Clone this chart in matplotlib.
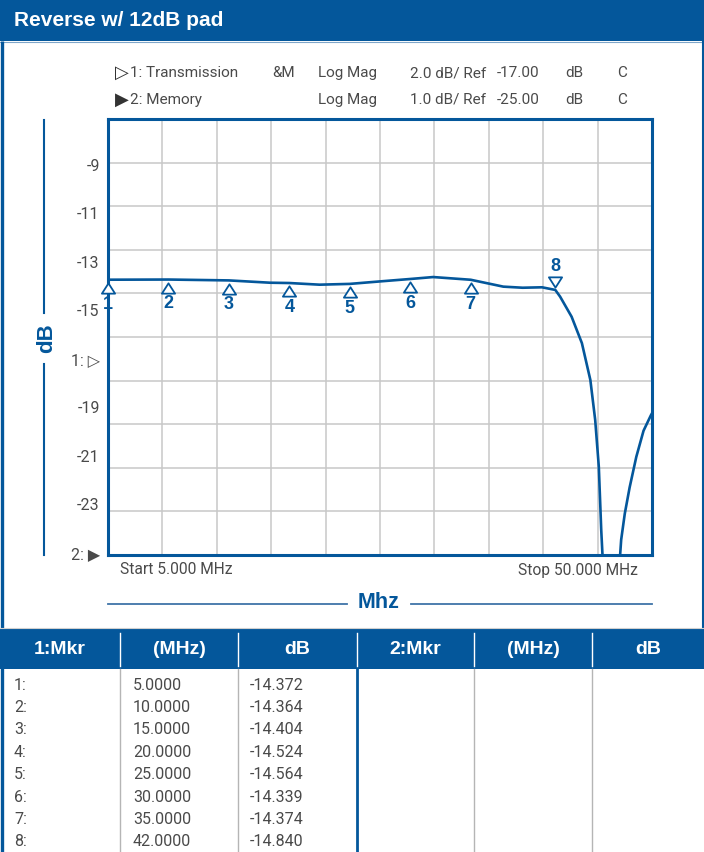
import numpy as np
import matplotlib
matplotlib.use('Agg')
import matplotlib.pyplot as plt
from matplotlib.path import Path
from matplotlib.patches import Rectangle
from matplotlib.transforms import offset_copy

plt.rcParams['font.family'] = ['Roboto', 'DejaVu Sans']
BOLD = ['Liberation Sans', 'DejaVu Sans']

BLUE = '#04579b'
GRID = '#c8c8c8'
TXT = '#4a4a4a'

# transmission trace (MHz, dB)
freq = [5, 10, 15, 18.4, 20, 22.5, 25, 27.5, 30, 31.9, 35, 37.7, 39.3, 40.9,
        42, 42.4, 43.35, 44.2, 44.9, 45.3, 45.6, 45.8, 45.95, 46.6, 47.3,
        47.45, 47.75, 48.15, 48.7, 49.3, 49.9, 50]
trace_db = [-14.372, -14.364, -14.404, -14.51, -14.524, -14.60, -14.564, -14.45,
            -14.339, -14.25, -14.374, -14.69, -14.74, -14.72,
            -14.84, -15.15, -16.07, -17.28, -18.97, -20.8, -22.95, -25.85, -27.5,
            -38.0, -27.5, -26.3, -25.1, -23.9, -22.5, -21.3, -20.6, -20.5]

# marker table
mkr_names = ['1:', '2:', '3:', '4:', '5:', '6:', '7:', '8:']
mkr_freq = [5.0, 10.0, 15.0, 20.0, 25.0, 30.0, 35.0, 42.0]
mkr_db = [-14.372, -14.364, -14.404, -14.524, -14.564, -14.339, -14.374, -14.840]

ytick_labels = ['-9', '-11', '-13', '-15', '1: \u25b7', '-19', '-21', '-23', '2: \u25b6']
header = ['1:Mkr', '(MHz)', 'dB', '2:Mkr', '(MHz)', 'dB']

W, H = 704, 852
fig = plt.figure(figsize=(W / 100, H / 100), dpi=100)

# page decorations in pixel coordinates
bg = fig.add_axes([0, 0, 1, 1])
bg.set_xlim(0, W)
bg.set_ylim(H, 0)
bg.axis('off')

bg.add_patch(Rectangle((0, 0), W, 41, color=BLUE, lw=0))
bg.plot([0, W], [41.5, 41.5], color='#7fa6c9', lw=0.8)
bg.text(14, 21, 'Reverse w/ 12dB pad', color='white', fontsize=15,
        fontweight='bold', family=BOLD, va='center', ha='left')
bg.plot([2, 2], [41, H], color=BLUE, lw=2.4, solid_capstyle='butt')
bg.plot([703, 703], [41, 629], color=BLUE, lw=1.5, solid_capstyle='butt')

legend_rows = [
    ['\u25b7', '1: Transmission', '&M', 'Log Mag', '2.0 dB/ Ref', '-17.00', 'dB', 'C'],
    ['\u25b6', '2: Memory', '', 'Log Mag', '1.0 dB/ Ref', '-25.00', 'dB', 'C'],
]
legend_x = [115, 130, 272, 318, 410, 497, 565, 617]
for row, y in zip(legend_rows, [73, 100]):
    for j, (s, x) in enumerate(zip(row, legend_x)):
        fs = 13 if j == 0 else 11
        col = '#333333' if j == 0 else TXT
        bg.text(x, y, s, color=col, fontsize=fs, va='center', ha='left')

# y axis title
bg.plot([44, 44], [120, 313], color=BLUE, lw=1.5)
bg.plot([44, 44], [364, 555], color=BLUE, lw=1.5)
bg.text(47, 338, 'dB', color=BLUE, fontsize=16, fontweight='bold', family=BOLD,
        rotation=90, va='center', ha='center')

bg.text(120, 570, 'Start 5.000 MHz', color=TXT, fontsize=11.2, va='center', ha='left')
bg.text(638, 570, 'Stop 50.000 MHz', color=TXT, fontsize=11.2, va='center', ha='right')

# x axis title
bg.plot([108, 347], [604, 604], color='#3f74a8', lw=1.3)
bg.plot([411, 652], [604, 604], color='#3f74a8', lw=1.3)
bg.text(379, 603, 'Mhz', color=BLUE, fontsize=15.5, fontweight='bold', family=BOLD,
        va='center', ha='center')

# marker table
col_edges = [0, 120, 238, 357, 474, 592, W]
bg.add_patch(Rectangle((0, 629), W, 40, color=BLUE, lw=0))
bg.plot([0, W], [628, 628], color='#d0d0d0', lw=0.8)
for i, s in enumerate(header):
    bg.text((col_edges[i] + col_edges[i + 1]) / 2, 649, s, color='white',
            fontsize=14, fontweight='bold', family=BOLD, va='center', ha='center')
for x in col_edges[1:-1]:
    bg.plot([x, x], [633, 666], color='white', lw=1.0)
    if x == 357:
        bg.plot([x, x], [669, H], color=BLUE, lw=2.0)
    else:
        bg.plot([x, x], [669, H], color='#b5b5b5', lw=1.0)

for i, (name, f, d) in enumerate(zip(mkr_names, mkr_freq, mkr_db)):
    y = 685 + 22.4 * i
    bg.text(14, y, name, color=TXT, fontsize=11.5, va='center')
    bg.text(133, y, '%.4f' % f, color=TXT, fontsize=11.5, va='center')
    bg.text(250, y, '%.3f' % d, color=TXT, fontsize=11.5, va='center')

# trace plot
ax = fig.add_axes([108 / W, 1 - 555 / H, 544 / W, 436 / H])
ax.set_xlim(5, 50)
ax.set_ylim(-27, -7)
ax.set_xticks(np.linspace(5, 50, 11))
ax.set_xticklabels([])
ax.set_yticks(np.arange(-27, -6, 2), minor=True)
ax.set_yticks(np.linspace(-9.1, -26.9, len(ytick_labels)))
ax.set_yticklabels(ytick_labels, color=TXT, fontsize=11.5)
ax.tick_params(which='both', length=0, pad=6)
ax.grid(axis='x', which='major', color=GRID, lw=1.1)
ax.grid(axis='y', which='minor', color=GRID, lw=1.1)
ax.set_axisbelow(True)
for sp in ax.spines.values():
    sp.set_color(BLUE)
    sp.set_linewidth(2.2)

ax.plot(freq, trace_db, color=BLUE, lw=1.9)

tri_up = Path([(0, 0.78), (-1, -0.78), (1, -0.78), (0, 0.78)],
              [Path.MOVETO, Path.LINETO, Path.LINETO, Path.CLOSEPOLY])
tri_dn = Path([(0, -0.78), (-1, 0.78), (1, 0.78), (0, -0.78)],
              [Path.MOVETO, Path.LINETO, Path.LINETO, Path.CLOSEPOLY])

for i, (f, d) in enumerate(zip(mkr_freq, mkr_db)):
    if i < 7:
        mk, dy, ty = tri_up, -6.0, -17.5
    else:
        mk, dy, ty = tri_dn, 5.5, 17.0
    ax.plot([f], [d], marker=mk, ms=9.5, mfc='white', mec=BLUE, mew=1.3,
            ls='none', clip_on=False, zorder=5,
            transform=offset_copy(ax.transData, fig=fig, y=dy, units='points'))
    ax.text(f, d, str(i + 1), color=BLUE, fontsize=13, fontweight='bold', family=BOLD,
            ha='center', va='center', zorder=6,
            transform=offset_copy(ax.transData, fig=fig, y=ty, units='points'))

fig.savefig('out.png', dpi=100, facecolor='white')
